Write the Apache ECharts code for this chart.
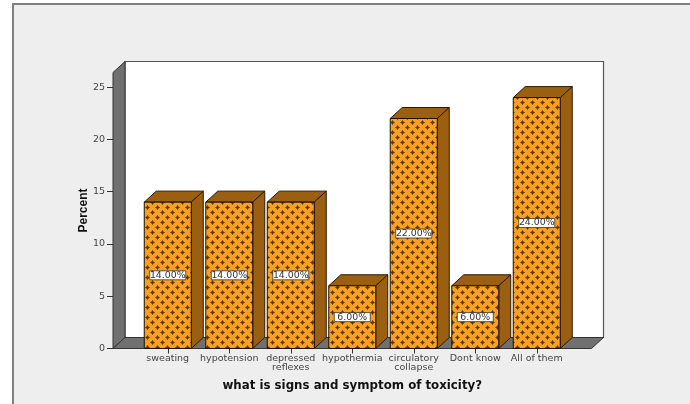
<!DOCTYPE html>
<html><head><meta charset="utf-8">
<style>html,body{margin:0;padding:0;background:#fff}#c{width:690px;height:404px}</style>
<script src="https://cdn.jsdelivr.net/npm/echarts@6/dist/echarts.min.js"></script>
</head><body><div id="c"></div>
<script>
const categories = ['sweating','hypotension','depressed\nreflexes','hypothermia','circulatory\ncollapse','Dont know','All of them'];
const percents = [14,14,14,6,22,6,24];
const tickValues = [0,5,10,15,20,25];
const xTitle = 'what is signs and symptom of toxicity?';
const yTitle = 'Percent';

const DX = 12, DY = -11, BARW = 47, FONT = '"DejaVu Sans"';
function makePattern(){
  const c = document.createElement('canvas'); c.width = 10; c.height = 10;
  const g = c.getContext('2d');
  g.fillStyle = '#FB9F1C'; g.fillRect(0,0,10,10);
  [[2,2],[7,7]].forEach(([x,y])=>{
    g.fillStyle = '#8F5A14';
    g.fillRect(x-2,y,5,1); g.fillRect(x,y-2,1,5);
    g.fillStyle = '#A56A16';
    g.fillRect(x-1,y-1,3,3);
    g.fillStyle = '#5A370D';
    g.fillRect(x-1,y,3,1); g.fillRect(x,y-1,1,3);
  });
  return c;
}
const pattern = {image: makePattern(), repeat: 'repeat'};
const chart = echarts.init(document.getElementById('c'), null, {renderer:'canvas'});

function renderBack(params, api){
  const o = api.coord([0,0]);
  const bandW = api.size([1,0])[0];
  const left = o[0] - bandW/2 - 24, right = o[0] + bandW*6.5 + 24;
  const top = api.coord([0,26.4])[1], base = o[1];
  return {type:'group', silent:true, children:[
    {type:'rect', shape:{x:left+DX, y:top+DY, width:right-left, height:base-top},
     style:{fill:'#fff', stroke:'#555', lineWidth:1.2}},
    {type:'polygon', shape:{points:[[left,top],[left+DX,top+DY],[left+DX,base+DY],[left,base]]},
     style:{fill:'#707070', stroke:'#333', lineWidth:1}},
    {type:'polygon', shape:{points:[[left,base],[left+DX,base+DY],[right+DX,base+DY],[right,base]]},
     style:{fill:'#707070', stroke:'#333', lineWidth:1}}
  ]};
}
function renderBar(params, api){
  const i = api.value(0), v = api.value(1);
  const p = api.coord([i,v]), b = api.coord([i,0]);
  const x = p[0]-BARW/2, y = p[1], h = b[1]-p[1], w = BARW;
  const lab = v.toFixed(2)+'%';
  const mid = y + h/2;
  return {type:'group', silent:true, children:[
    {type:'polygon', shape:{points:[[x,y],[x+DX,y+DY],[x+w+DX,y+DY],[x+w,y]]},
     style:{fill:'#9A5F10', stroke:'#2b1a05', lineWidth:1}},
    {type:'polygon', shape:{points:[[x+w,y],[x+w+DX,y+DY],[x+w+DX,y+h+DY],[x+w,y+h]]},
     style:{fill:'#9A5F10', stroke:'#2b1a05', lineWidth:1}},
    {type:'rect', shape:{x:x,y:y,width:w,height:h},
     style:{fill:pattern, stroke:'#1a1005', lineWidth:1}},
    {type:'rect', shape:{x:x+w/2-18,y:mid-4.5,width:36,height:9},
     style:{fill:'#fff', stroke:'#333', lineWidth:0.8}},
    {type:'text', style:{x:x+w/2,y:mid,text:lab,fill:'#333',font:'9.4px '+FONT,align:'center',verticalAlign:'middle'}}
  ]};
}
chart.setOption({
  animation:false,
  backgroundColor:'#fff',
  graphic:[{type:'rect', z:-10, silent:true, shape:{x:13,y:4,width:690,height:410},
    style:{fill:'#EEEEEE', stroke:'#808080', lineWidth:2}}],
  grid:{left:137, width:430.5, top:72.5, height:276},
  xAxis:{type:'category', data:categories, boundaryGap:true, name:xTitle, nameLocation:'middle', nameGap:31,
    nameTextStyle:{fontFamily:FONT, fontWeight:'bold', fontSize:11.8, color:'#111'},
    axisLine:{show:false},
    axisTick:{show:true, alignWithLabel:true, length:5, lineStyle:{color:'#333'}},
    axisLabel:{fontFamily:FONT, fontSize:9.5, color:'#444', lineHeight:9, margin:6, interval:0}},
  yAxis:{type:'value', min:0, max:26.4, offset:24, name:yTitle, nameLocation:'middle', nameGap:23, nameMoveOverlap:false,
    nameTextStyle:{fontFamily:'"Liberation Sans"', fontWeight:'bold', fontSize:12, color:'#111'},
    splitLine:{show:false},
    axisLine:{show:false},
    axisTick:{show:true, length:6, customValues:tickValues, lineStyle:{color:'#333'}},
    axisLabel:{fontFamily:FONT, fontSize:9.5, color:'#444', margin:8, customValues:tickValues}},
  series:[
    {type:'custom', name:'back', coordinateSystem:'cartesian2d', clip:false, z:1, renderItem:renderBack, data:[[0,0]], encode:{x:0,y:1}},
    {type:'custom', name:'Percent', coordinateSystem:'cartesian2d', clip:false, z:2, renderItem:renderBar,
     data:percents.map((v,i)=>[i,v]), encode:{x:0,y:1}}
  ]
});
</script></body></html>
